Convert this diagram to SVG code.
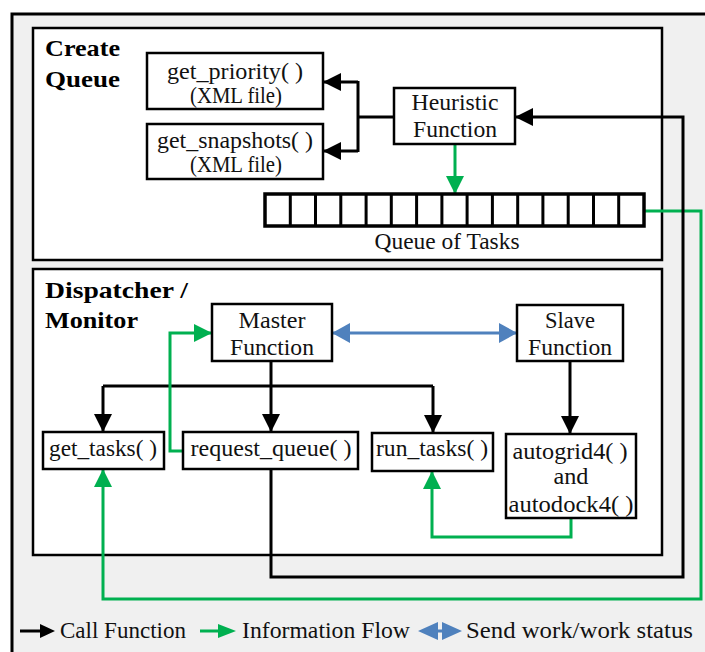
<svg xmlns="http://www.w3.org/2000/svg" width="705" height="652" viewBox="0 0 705 652">
  <style>
    .panel { fill: #ffffff; stroke: #000000; stroke-width: 2.5; }
    .box { fill: #ffffff; stroke: #000000; stroke-width: 2.5; }
    .cell { fill: #ffffff; stroke: #000000; stroke-width: 3.5; }
    .lbl { font-family: "Liberation Serif", "Times New Roman", serif; font-size: 23px; fill: #111111; text-anchor: middle; }
    .title { font-family: "Liberation Serif", "Times New Roman", serif; font-size: 24px; font-weight: bold; fill: #000000; }
    .leg { font-family: "Liberation Serif", "Times New Roman", serif; font-size: 23px; fill: #111111; }
    .call { fill: none; stroke: #000000; stroke-width: 3; }
    .info { fill: none; stroke: #00b050; stroke-width: 3; }
    .work { fill: none; stroke: #4f81bd; stroke-width: 3; }
  </style>
  <defs>
    <marker id="head-black" markerUnits="userSpaceOnUse" markerWidth="18" markerHeight="18" refX="18" refY="9" orient="auto">
      <path d="M0,0 L18,9 L0,18 z" fill="#000000"/>
    </marker>
    <marker id="head-green" markerUnits="userSpaceOnUse" markerWidth="18" markerHeight="18" refX="18" refY="9" orient="auto">
      <path d="M0,0 L18,9 L0,18 z" fill="#00b050"/>
    </marker>
    <marker id="head-blue" markerUnits="userSpaceOnUse" markerWidth="18" markerHeight="20" refX="18" refY="10" orient="auto-start-reverse">
      <path d="M0,0 L18,10 L0,20 z" fill="#4f81bd"/>
    </marker>
  </defs>

  <!-- outer frame (right and bottom edges run past the canvas) -->
  <rect x="0" y="0" width="705" height="652" fill="#ffffff"/>
  <rect x="12" y="14" width="710" height="660" fill="#f0f0f0" stroke="#000000" stroke-width="3"/>

  <!-- section panels -->
  <g id="panel-create-queue">
    <rect class="panel" x="33" y="28" width="629" height="232"/>
    <text class="title" x="45" y="56" textLength="75" lengthAdjust="spacingAndGlyphs">Create</text>
    <text class="title" x="45" y="87" textLength="75" lengthAdjust="spacingAndGlyphs">Queue</text>
  </g>
  <g id="panel-dispatcher">
    <rect class="panel" x="33" y="269" width="629" height="286"/>
    <text class="title" x="45" y="298" textLength="143" lengthAdjust="spacingAndGlyphs">Dispatcher /</text>
    <text class="title" x="45" y="328" textLength="93" lengthAdjust="spacingAndGlyphs">Monitor</text>
  </g>

  <!-- connectors -->
  <g id="connectors">
    <!-- heuristic function calls the XML readers -->
    <path class="call" d="M394,117 H358"/>
    <path class="call" d="M358,81 V152"/>
    <path class="call" d="M358,82 H323" marker-end="url(#head-black)"/>
    <path class="call" d="M358,151 H323" marker-end="url(#head-black)"/>
    <!-- heuristic fills the queue -->
    <path class="info" d="M455,144 V194" marker-end="url(#head-green)"/>
    <!-- queue of tasks back to get_tasks -->
    <path class="info" d="M644,211 H701 V599 H103 V469" marker-end="url(#head-green)"/>
    <!-- request_queue calls heuristic -->
    <path class="call" d="M271,469 V577 H683 V117 H515" marker-end="url(#head-black)"/>
    <!-- master / slave exchange -->
    <path class="work" d="M332,333 H517" marker-start="url(#head-blue)" marker-end="url(#head-blue)"/>
    <!-- master fans out -->
    <path class="call" d="M271,361 V432" marker-end="url(#head-black)"/>
    <path class="call" d="M103,386 H433"/>
    <path class="call" d="M103,386 V432" marker-end="url(#head-black)"/>
    <path class="call" d="M433,386 V433" marker-end="url(#head-black)"/>
    <!-- slave calls autogrid/autodock -->
    <path class="call" d="M570,361 V434" marker-end="url(#head-black)"/>
    <!-- request_queue answer to master -->
    <path class="info" d="M183,451 H170 V333 H212" marker-end="url(#head-green)"/>
    <!-- autodock results back to run_tasks -->
    <path class="info" d="M571,518 V537 H432 V471" marker-end="url(#head-green)"/>
  </g>

  <!-- nodes -->
  <g id="get-priority">
    <rect class="box" x="147" y="53" width="176" height="56"/>
    <text class="lbl" x="235" y="79" textLength="136" lengthAdjust="spacingAndGlyphs">get_priority( )</text>
    <text class="lbl" x="236" y="103" textLength="92" lengthAdjust="spacingAndGlyphs">(XML file)</text>
  </g>
  <g id="get-snapshots">
    <rect class="box" x="147" y="124" width="176" height="55"/>
    <text class="lbl" x="235" y="148" textLength="156" lengthAdjust="spacingAndGlyphs">get_snapshots( )</text>
    <text class="lbl" x="236" y="172" textLength="92" lengthAdjust="spacingAndGlyphs">(XML file)</text>
  </g>
  <g id="heuristic-function">
    <rect class="box" x="394" y="88" width="121" height="56"/>
    <text class="lbl" x="455" y="110" textLength="87" lengthAdjust="spacingAndGlyphs">Heuristic</text>
    <text class="lbl" x="455" y="137" textLength="84" lengthAdjust="spacingAndGlyphs">Function</text>
  </g>
  <g id="queue-of-tasks">
    <rect class="cell" x="265" y="194" width="379" height="32"/>
    <path d="M290.3,194 V226 M315.5,194 V226 M340.8,194 V226 M366.1,194 V226 M391.3,194 V226 M416.6,194 V226 M441.9,194 V226 M467.1,194 V226 M492.4,194 V226 M517.7,194 V226 M542.9,194 V226 M568.2,194 V226 M593.5,194 V226 M618.7,194 V226" stroke="#000000" stroke-width="3" fill="none"/>
    <text class="lbl" x="447" y="249" textLength="145" lengthAdjust="spacingAndGlyphs">Queue of Tasks</text>
  </g>
  <g id="master-function">
    <rect class="box" x="212" y="304" width="120" height="57"/>
    <text class="lbl" x="272" y="328" textLength="67" lengthAdjust="spacingAndGlyphs">Master</text>
    <text class="lbl" x="272" y="355" textLength="84" lengthAdjust="spacingAndGlyphs">Function</text>
  </g>
  <g id="slave-function">
    <rect class="box" x="517" y="305" width="106" height="56"/>
    <text class="lbl" x="570" y="328" textLength="50" lengthAdjust="spacingAndGlyphs">Slave</text>
    <text class="lbl" x="570" y="355" textLength="84" lengthAdjust="spacingAndGlyphs">Function</text>
  </g>
  <g id="get-tasks">
    <rect class="box" x="43" y="432" width="121" height="37"/>
    <text class="lbl" x="103" y="456" textLength="108" lengthAdjust="spacingAndGlyphs">get_tasks( )</text>
  </g>
  <g id="request-queue">
    <rect class="box" x="183" y="432" width="175" height="37"/>
    <text class="lbl" x="271" y="456" textLength="161" lengthAdjust="spacingAndGlyphs">request_queue( )</text>
  </g>
  <g id="run-tasks">
    <rect class="box" x="372" y="433" width="121" height="38"/>
    <text class="lbl" x="432" y="456" textLength="112" lengthAdjust="spacingAndGlyphs">run_tasks( )</text>
  </g>
  <g id="autogrid-autodock">
    <rect class="box" x="506" y="434" width="130" height="84"/>
    <text class="lbl" x="570" y="459" textLength="115" lengthAdjust="spacingAndGlyphs">autogrid4( )</text>
    <text class="lbl" x="571" y="484" textLength="35" lengthAdjust="spacingAndGlyphs">and</text>
    <text class="lbl" x="571" y="512" textLength="125" lengthAdjust="spacingAndGlyphs">autodock4( )</text>
  </g>

  <!-- legend -->
  <g id="legend">
    <path d="M20,631 H42" stroke="#000000" stroke-width="3"/>
    <path d="M40,624 L55,631 L40,638 z" fill="#000000"/>
    <text class="leg" x="60" y="638" textLength="126" lengthAdjust="spacingAndGlyphs">Call Function</text>
    <path d="M200,631 H220" stroke="#00b050" stroke-width="3"/>
    <path d="M218,624 L236,631 L218,638 z" fill="#00b050"/>
    <text class="leg" x="242" y="638" textLength="168" lengthAdjust="spacingAndGlyphs">Information Flow</text>
    <path d="M418,631 L438,622 V640 z M462,631 L442,622 V640 z" fill="#4f81bd"/>
    <path d="M436,631 H444" stroke="#4f81bd" stroke-width="3"/>
    <text class="leg" x="466" y="638" textLength="227" lengthAdjust="spacingAndGlyphs">Send work/work status</text>
  </g>
</svg>
